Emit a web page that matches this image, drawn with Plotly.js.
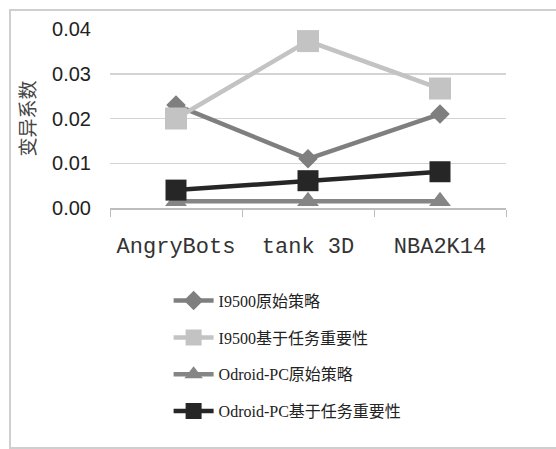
<!DOCTYPE html>
<html>
<head>
<meta charset="utf-8">
<script src="https://cdn.plot.ly/plotly-3.0.1.min.js"></script>
<style>
  html, body { margin: 0; padding: 0; background: #ffffff; overflow: hidden; }
  #frame { position: absolute; left: 9px; top: 9px; width: 580px; height: 436px; border: 2px solid #cfcfcf; box-sizing: content-box; }
  #chart { position: absolute; left: 0; top: 0; width: 556px; height: 449px; }
</style>
</head>
<body>
<div id="frame"></div>
<div id="chart"></div>
<script>
const categories = ["AngryBots", "tank 3D", "NBA2K14"];
const seriesNames = ["I9500原始策略", "I9500基于任务重要性", "Odroid-PC原始策略", "Odroid-PC基于任务重要性"];
const i9500Original = [0.023, 0.011, 0.021];
const i9500Importance = [0.020, 0.0373, 0.0267];
const odroidOriginal = [0.0015, 0.0015, 0.0015];
const odroidImportance = [0.0040, 0.0061, 0.0081];
const yTickVals = [0, 0.01, 0.02, 0.03, 0.04];
const yTickText = ["0.00", "0.01", "0.02", "0.03", "0.04"];

const styles = [
  {color: "#7f7f7f", symbol: "diamond", size: 15},
  {color: "#c3c3c3", symbol: "square", size: 22},
  {color: "#858585", symbol: "triangle-up", size: 19},
  {color: "#262626", symbol: "square", size: 21}
];
const values = [i9500Original, i9500Importance, odroidOriginal, odroidImportance];

const traces = values.map((v, i) => ({
  type: "scatter",
  mode: "lines+markers",
  x: categories,
  y: v,
  name: seriesNames[i],
  legendgroup: "g" + i,
  line: {color: styles[i].color, width: 4.5},
  marker: {color: styles[i].color, symbol: styles[i].symbol, size: styles[i].size, line: {width: 0}}
}));

const layout = {
  width: 556,
  height: 449,
  margin: {l: 110, r: 50, t: 29, b: 241, autoexpand: false},
  paper_bgcolor: "rgba(0,0,0,0)",
  plot_bgcolor: "rgba(0,0,0,0)",
  showlegend: true,
  legend: {
    x: 0.148, y: -0.423, xanchor: "left", yanchor: "top",
    tracegroupgap: 13,
    font: {family: "Liberation Serif, Noto Sans CJK SC", size: 16, color: "#222"},
    bgcolor: "rgba(0,0,0,0)",
    itemwidth: 40
  },
  xaxis: {
    type: "category",
    tickmode: "array",
    tickvals: categories,
    ticktext: categories,
    showgrid: false,
    showline: true,
    linecolor: "#bdbdbd",
    linewidth: 1.5,
    ticks: "outside",
    tickson: "boundaries",
    ticklen: 7,
    tickcolor: "#bdbdbd",
    ticklabelstandoff: 17,
    tickfont: {family: "Liberation Mono", size: 22, color: "#333"},
    range: [-0.5, 2.5],
    fixedrange: true
  },
  yaxis: {
    range: [0, 0.04],
    tickmode: "array",
    tickvals: yTickVals,
    ticktext: yTickText,
    showgrid: true,
    gridcolor: "#d4d4d4",
    gridwidth: 1.5,
    zeroline: false,
    showline: false,
    ticks: "",
    ticklabelstandoff: 18,
    tickfont: {family: "Liberation Sans", size: 20, color: "#222"},
    title: {text: "变异系数", font: {family: "Noto Sans CJK SC", size: 19, color: "#444"}, standoff: 11},
    fixedrange: true
  }
};

Plotly.newPlot("chart", traces, layout, {displayModeBar: false, staticPlot: true});
</script>
</body>
</html>
